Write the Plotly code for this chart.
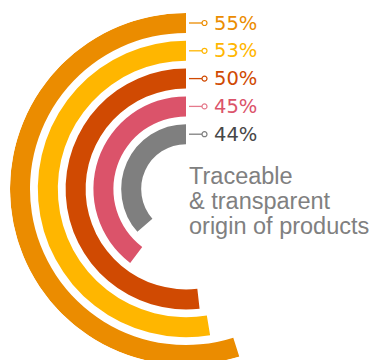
import plotly.graph_objects as go

# ---- data ----
labels = ["55%", "53%", "50%", "45%", "44%"]
values = [55, 53, 50, 45, 44]
# visual arc extent of each ring, as % of a full circle
arc_share = [54.9, 52.6, 51.8, 39.7, 36.5]
ring_colors = ["#EB8C00", "#FFB600", "#D04A02", "#DB536A", "#7F7F7F"]
text_colors = ["#EB8C00", "#FFB600", "#D04A02", "#DB536A", "#474747"]
line_colors = ["#EB8C00", "#FFB600", "#D04A02", "#E57A8C", "#7F7F7F"]
caption = ["Traceable", "& transparent", "origin of products"]

# ---- geometry (pixels) ----
W, H = 372, 378
cx, cy = 186, 189
R = 176          # outer radius of outer ring
pitch = 27.8
thick = 20

fig = go.Figure()

for i, (lab, share, col) in enumerate(zip(labels, arc_share, ring_colors)):
    outer = R - pitch * i
    span = share * 3.6
    fig.add_trace(go.Barpolar(
        r=[thick], base=[outer - thick], theta=[span / 2], width=[span],
        marker=dict(color=col, line=dict(width=0)),
        hoverinfo="skip", showlegend=False,
    ))

# leader lines + labels in a hidden pixel-space cartesian overlay
for i, (lab, lc, tc) in enumerate(zip(labels, line_colors, text_colors)):
    mid = R - pitch * i - thick / 2
    y = cy - mid
    fig.add_trace(go.Scatter(
        x=[189, 203], y=[y, y], mode="lines",
        line=dict(color=lc, width=1.3), hoverinfo="skip", showlegend=False,
        xaxis="x", yaxis="y",
    ))
    fig.add_trace(go.Scatter(
        x=[204.5], y=[y], mode="markers",
        marker=dict(symbol="circle", size=5, color="white",
                    line=dict(color=lc, width=1.2)),
        hoverinfo="skip", showlegend=False, xaxis="x", yaxis="y",
    ))
    fig.add_annotation(
        x=212, y=y, xref="x", yref="y", text=lab, showarrow=False,
        xanchor="left", yanchor="middle",
        font=dict(family="DejaVu Sans, Verdana, sans-serif", size=19.5, color=tc),
    )

cap_y = [176, 201, 226]
for t, yy in zip(caption, cap_y):
    fig.add_annotation(
        x=187, y=yy, xref="x", yref="y", text=t, showarrow=False,
        xanchor="left", yanchor="middle",
        font=dict(family="Liberation Sans, Arial, sans-serif", size=23.5, color="#808080"),
    )

fig.update_layout(
    width=W, height=H,
    margin=dict(l=0, r=0, t=0, b=0),
    paper_bgcolor="white", plot_bgcolor="rgba(0,0,0,0)",
    polar=dict(
        domain=dict(x=[(cx - R) / W, (cx + R) / W],
                    y=[(H - cy - R) / H, (H - cy + R) / H]),
        bgcolor="rgba(0,0,0,0)",
        radialaxis=dict(range=[0, R], visible=False, showgrid=False),
        angularaxis=dict(rotation=90, direction="counterclockwise",
                         visible=False, showgrid=False),
        bargap=0,
    ),
    xaxis=dict(range=[0, W], domain=[0, 1], visible=False, fixedrange=True),
    yaxis=dict(range=[H, 0], domain=[0, 1], visible=False, fixedrange=True),
    showlegend=False,
)

fig.write_html(
    "out.html",
    config={"displayModeBar": False, "staticPlot": True},
    post_script="document.body.style.margin='0';document.body.style.overflow='hidden';document.documentElement.style.overflow='hidden';",
)
